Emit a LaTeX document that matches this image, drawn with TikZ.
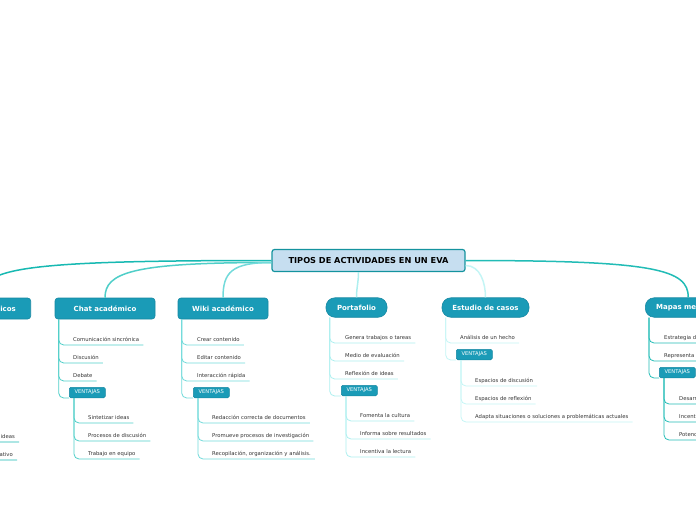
\documentclass[tikz,border=0pt]{standalone}
\usepackage{fontspec}
\setmainfont{DejaVu Sans}
\usepackage{tikz}
\usetikzlibrary{positioning}
\definecolor{evaRoot}{HTML}{C6DEF0}
\definecolor{evaRootLine}{HTML}{14939E}
\definecolor{evaTopic}{HTML}{1A9BB7}
\definecolor{evaTopicLine}{HTML}{1688A2}
\definecolor{evaText}{HTML}{333333}
\definecolor{brForos}{HTML}{17B9B2}
\definecolor{brChat}{HTML}{4FCEC8}
\definecolor{brWiki}{HTML}{72DADA}
\definecolor{brPorta}{HTML}{ADEFEF}
\definecolor{brCasos}{HTML}{C4F5F5}
\definecolor{brMapas}{HTML}{22BCB6}

\begin{document}
\begin{tikzpicture}[
  x=1pt, y=-1pt,
  rootbox/.style={draw=evaRootLine, fill=evaRoot, line width=1.2pt, rounded corners=2.5pt,
                  minimum width=193pt, minimum height=22pt, inner sep=0pt,
                  font=\fontsize{8.2}{10}\selectfont\bfseries},
  topic/.style={draw=evaTopicLine, fill=evaTopic, line width=0.6pt, rounded corners=3pt,
                minimum height=21pt, inner sep=0pt, text=white,
                font=\fontsize{7}{8.5}\selectfont\bfseries},
  pill/.style={topic, rounded corners=9pt, minimum height=19.5pt},
  gain/.style={draw=evaTopicLine, fill=evaTopic, line width=0.5pt, rounded corners=1.5pt,
               minimum width=36pt, minimum height=10.5pt, inner sep=0pt, anchor=south west,
               text=white, font=\fontsize{5.2}{6}\selectfont},
  entry/.style={anchor=south west, inner xsep=4pt, inner ysep=0.5pt, text height=3.8pt,
                text depth=3pt, text=evaText, font=\fontsize{5.3}{6.3}\selectfont},
  link/.style={draw=#1, line width=1.5pt},
  leaf/.style={draw=#1, line width=0.8pt, rounded corners=5pt}
]
  \useasboundingbox (0,0) rectangle (696,520);
  \clip (0,0) rectangle (696,520);

  % Root and topics
  \node[rootbox] (eva) at (368.5,260.5) {TIPOS DE ACTIVIDADES EN UN EVA};
  \node[topic, minimum width=100pt, anchor=east] (foros) at (31,308.5) {Foros académicos};
  \node[topic, minimum width=100pt] (chat) at (105,308.5) {Chat académico};
  \node[topic, minimum width=90pt] (wiki) at (223,308.5) {Wiki académico};
  \node[pill, minimum width=61pt] (porta) at (356.5,307.5) {Portafolio};
  \node[pill, minimum width=87pt] (casos) at (485.5,307.5) {Estudio de casos};
  \node[pill, minimum width=86pt, anchor=west] (mapas) at (645,307.5) {Mapas mentales};

  % Foros (cut by the left edge)
  \node[gain] (forosv) at (-80,398) {VENTAJAS};
  \node[entry, anchor=south east] (forosv1) at (19,442) {Intercambio de ideas};
  \node[entry, anchor=south east] (forosv2) at (17,460) {Aprendizaje colaborativo};

  % Chat
  \node[entry] (chat1) at (69,345) {Comunicación sincrónica};
  \node[entry] (chat2) at ([yshift=-18pt]chat1.south west) {Discusión};
  \node[entry] (chat3) at ([yshift=-18pt]chat2.south west) {Debate};
  \node[gain] (chatv) at ([yshift=-17pt]chat3.south west) {VENTAJAS};
  \node[entry] (chatv1) at ([xshift=15pt, yshift=-25pt]chatv.south west) {Sintetizar ideas};
  \node[entry] (chatv2) at ([yshift=-18pt]chatv1.south west) {Procesos de discusión};
  \node[entry] (chatv3) at ([yshift=-18pt]chatv2.south west) {Trabajo en equipo};

  % Wiki
  \node[entry] (wiki1) at (193,345) {Crear contenido};
  \node[entry] (wiki2) at ([yshift=-18pt]wiki1.south west) {Editar contenido};
  \node[entry] (wiki3) at ([yshift=-18pt]wiki2.south west) {Interacción rápida};
  \node[gain] (wikiv) at ([yshift=-17pt]wiki3.south west) {VENTAJAS};
  \node[entry] (wikiv1) at ([xshift=15pt, yshift=-25pt]wikiv.south west) {Redacción correcta de documentos};
  \node[entry] (wikiv2) at ([yshift=-18pt]wikiv1.south west) {Promueve procesos de investigación};
  \node[entry] (wikiv3) at ([yshift=-18pt]wikiv2.south west) {Recopilación, organización y análisis.};

  % Portafolio
  \node[entry] (porta1) at (341,343) {Genera trabajos o tareas};
  \node[entry] (porta2) at ([yshift=-18pt]porta1.south west) {Medio de evaluación};
  \node[entry] (porta3) at ([yshift=-18pt]porta2.south west) {Reflexión de ideas};
  \node[gain] (portav) at ([yshift=-17pt]porta3.south west) {VENTAJAS};
  \node[entry] (portav1) at ([xshift=15pt, yshift=-25pt]portav.south west) {Fomenta la cultura};
  \node[entry] (portav2) at ([yshift=-18pt]portav1.south west) {Informa sobre resultados};
  \node[entry] (portav3) at ([yshift=-18pt]portav2.south west) {Incentiva la lectura};

  % Estudio de casos
  \node[entry] (casos1) at (456,343) {Análisis de un hecho};
  \node[gain] (casosv) at ([yshift=-17pt]casos1.south west) {VENTAJAS};
  \node[entry] (casosv1) at ([xshift=15pt, yshift=-26pt]casosv.south west) {Espacios de discusión};
  \node[entry] (casosv2) at ([yshift=-18pt]casosv1.south west) {Espacios de reflexión};
  \node[entry] (casosv3) at ([yshift=-18pt]casosv2.south west) {Adapta situaciones o soluciones a problemáticas actuales};

  % Mapas (cut by the right edge)
  \node[entry] (mapas1) at (660,343) {Estrategia de aprendizaje};
  \node[entry] (mapas2) at ([yshift=-18pt]mapas1.south west) {Representa ideas};
  \node[gain] (mapasv) at ([xshift=-1pt, yshift=-17pt]mapas2.south west) {VENTAJAS};
  \node[entry] (mapasv1) at ([xshift=16pt, yshift=-26pt]mapasv.south west) {Desarrolla la creatividad};
  \node[entry] (mapasv2) at ([yshift=-18pt]mapasv1.south west) {Incentiva el análisis};
  \node[entry] (mapasv3) at ([yshift=-18pt]mapasv2.south west) {Potencia la memoria};

  % Root links
  \draw[link=brForos] (eva.west) to[out=180, in=90, out distance=250pt, in distance=30pt] (foros.north);
  \draw[link=brChat] ([yshift=-2pt]eva.west) to[out=180, in=90, out distance=140pt, in distance=25pt] (chat.north);
  \draw[link=brWiki] ([yshift=-2pt]eva.west) to[out=180, in=90, out distance=40pt, in distance=25pt] (wiki.north);
  \draw[link=brPorta] ([xshift=-10pt]eva.south) to[out=-90, in=90] (porta.north);
  \draw[link=brCasos] ([yshift=-5pt]eva.east) to[out=0, in=90] (casos.north);
  \draw[link=brMapas] (eva.east) to[out=0, in=90, out distance=190pt, in distance=28pt] (mapas.north);

  % Leaf links
  \draw[leaf=brForos] (forosv.south west) |- (forosv1.south west) -- (forosv1.south east);
  \draw[leaf=brForos] (forosv.south west) |- (forosv2.south west) -- (forosv2.south east);

  \draw[leaf=brChat] ([xshift=4pt]chat.south west) |- (chat1.south west) -- (chat1.south east);
  \draw[leaf=brChat] ([xshift=4pt]chat.south west) |- (chat2.south west) -- (chat2.south east);
  \draw[leaf=brChat] ([xshift=4pt]chat.south west) |- (chat3.south west) -- (chat3.south east);
  \draw[leaf=brChat] ([xshift=4pt]chat.south west) |- (chatv.south west);
  \draw[leaf=brChat] ([xshift=5pt]chatv.south west) |- (chatv1.south west) -- (chatv1.south east);
  \draw[leaf=brChat] ([xshift=5pt]chatv.south west) |- (chatv2.south west) -- (chatv2.south east);
  \draw[leaf=brChat] ([xshift=5pt]chatv.south west) |- (chatv3.south west) -- (chatv3.south east);

  \draw[leaf=brWiki] ([xshift=4pt]wiki.south west) |- (wiki1.south west) -- (wiki1.south east);
  \draw[leaf=brWiki] ([xshift=4pt]wiki.south west) |- (wiki2.south west) -- (wiki2.south east);
  \draw[leaf=brWiki] ([xshift=4pt]wiki.south west) |- (wiki3.south west) -- (wiki3.south east);
  \draw[leaf=brWiki] ([xshift=4pt]wiki.south west) |- (wikiv.south west);
  \draw[leaf=brWiki] ([xshift=5pt]wikiv.south west) |- (wikiv1.south west) -- (wikiv1.south east);
  \draw[leaf=brWiki] ([xshift=5pt]wikiv.south west) |- (wikiv2.south west) -- (wikiv2.south east);
  \draw[leaf=brWiki] ([xshift=5pt]wikiv.south west) |- (wikiv3.south west) -- (wikiv3.south east);

  \draw[leaf=brPorta] ([xshift=4pt]porta.south west) |- (porta1.south west) -- (porta1.south east);
  \draw[leaf=brPorta] ([xshift=4pt]porta.south west) |- (porta2.south west) -- (porta2.south east);
  \draw[leaf=brPorta] ([xshift=4pt]porta.south west) |- (porta3.south west) -- (porta3.south east);
  \draw[leaf=brPorta] ([xshift=4pt]porta.south west) |- (portav.south west);
  \draw[leaf=brPorta] ([xshift=5pt]portav.south west) |- (portav1.south west) -- (portav1.south east);
  \draw[leaf=brPorta] ([xshift=5pt]portav.south west) |- (portav2.south west) -- (portav2.south east);
  \draw[leaf=brPorta] ([xshift=5pt]portav.south west) |- (portav3.south west) -- (portav3.south east);

  \draw[leaf=brCasos] ([xshift=4pt]casos.south west) |- (casos1.south west) -- (casos1.south east);
  \draw[leaf=brCasos] ([xshift=4pt]casos.south west) |- (casosv.south west);
  \draw[leaf=brCasos] ([xshift=5pt]casosv.south west) |- (casosv1.south west) -- (casosv1.south east);
  \draw[leaf=brCasos] ([xshift=5pt]casosv.south west) |- (casosv2.south west) -- (casosv2.south east);
  \draw[leaf=brCasos] ([xshift=5pt]casosv.south west) |- (casosv3.south west) -- (casosv3.south east);

  \draw[leaf=brMapas] ([xshift=4pt]mapas.south west) |- (mapas1.south west) -- (mapas1.south east);
  \draw[leaf=brMapas] ([xshift=4pt]mapas.south west) |- (mapas2.south west) -- (mapas2.south east);
  \draw[leaf=brMapas] ([xshift=4pt]mapas.south west) |- (mapasv.south west);
  \draw[leaf=brMapas] ([xshift=5pt]mapasv.south west) |- (mapasv1.south west) -- (mapasv1.south east);
  \draw[leaf=brMapas] ([xshift=5pt]mapasv.south west) |- (mapasv2.south west) -- (mapasv2.south east);
  \draw[leaf=brMapas] ([xshift=5pt]mapasv.south west) |- (mapasv3.south west) -- (mapasv3.south east);
\end{tikzpicture}
\end{document}
